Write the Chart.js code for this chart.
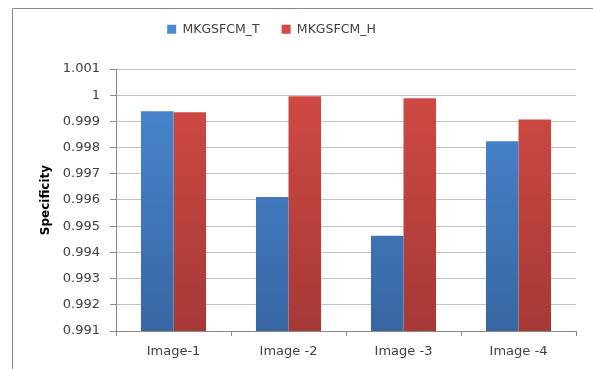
<!DOCTYPE html>
<html>
<head>
<meta charset="utf-8">
<script src="https://cdn.jsdelivr.net/npm/chart.js@4/dist/chart.umd.min.js"></script>
<style>
  html, body { margin: 0; padding: 0; background: #fff; }
  #wrap { width: 593px; height: 369px; }
</style>
</head>
<body>
<div id="wrap"><canvas id="specChart"></canvas></div>
<script>
const categories = ["Image-1", "Image -2", "Image -3", "Image -4"];
const mkgsfcmT = [0.99939, 0.99611, 0.99464, 0.99824];
const mkgsfcmH = [0.99935, 0.99996, 0.99988, 0.99907];
const seriesNames = ["MKGSFCM_T", "MKGSFCM_H"];
const yMin = 0.991;
const yMax = 1.001;
const yStep = 0.001;

const textColor = "#404040";
const fontName = "'DejaVu Sans', sans-serif";

//vertical gradient across the plot area, lighter at top
function barGradient(top, bottom) {
  return (ctx) => {
    const area = ctx.chart.chartArea;
    if (!area) return top;
    const g = ctx.chart.ctx.createLinearGradient(0, area.top, 0, area.bottom);
    g.addColorStop(0, top);
    g.addColorStop(1, bottom);
    return g;
  };
}

//outer frame like the Excel chart area (top and left edges only)
const framePlugin = {
  id: "frame",
  beforeDraw(chart) {
    const c = chart.ctx;
    c.save();
    c.fillStyle = "#fff";
    c.fillRect(0, 0, chart.width, chart.height);
    c.strokeStyle = "#8a8a8a";
    c.lineWidth = 1;
    c.beginPath();
    c.moveTo(12.5, chart.height);
    c.lineTo(12.5, 8.5);
    c.lineTo(chart.width, 8.5);
    c.stroke();
    c.restore();
  },
};

//excel centres the legend a bit left of the canvas centre
const legendShift = {
  id: "legendShift",
  afterLayout(chart) {
    if (!chart.legend) return;
    chart.legend.left -= 34;
    chart.legend.right -= 34;
  },
};

const ctxbar = document.getElementById("specChart").getContext("2d");
const specChart = new Chart(ctxbar, {
  type: "bar",
  data: {
    labels: categories,
    datasets: [
      {
        label: seriesNames[0],
        data: mkgsfcmT,
        backgroundColor: barGradient("#4a89d3", "#3866a3"),
        borderWidth: 0,
      },
      {
        label: seriesNames[1],
        data: mkgsfcmH,
        backgroundColor: barGradient("#d44a45", "#a53936"),
        borderWidth: 0,
      },
    ],
  },
  options: {
    responsive: true,
    maintainAspectRatio: false,
    animation: false,
    categoryPercentage: 0.566,
    barPercentage: 1,
    layout: {
      padding: { left: 35, right: 17, top: 1, bottom: 0 },
    },
    plugins: {
      legend: {
        position: "top",
        labels: {
          boxWidth: 9,
          boxHeight: 9,
          padding: 22,
          color: textColor,
          font: { family: fontName, size: 12.5 },
        },
      },
      //empty spacer between legend and plot
      title: {
        display: true,
        text: "",
        weight: 500,
        font: { size: 10, lineHeight: 1 },
        padding: { top: 0, bottom: 13.5 },
      },
      tooltip: { enabled: false },
    },
    scales: {
      x: {
        grid: {
          offset: true,
          drawOnChartArea: false,
          tickLength: 5,
          color: "#8a8a8a",
        },
        border: { color: "#8a8a8a" },
        ticks: {
          padding: 8,
          color: textColor,
          font: { family: fontName, size: 13 },
        },
        afterFit(scale) {
          scale.height = 38;
        },
      },
      y: {
        min: yMin,
        max: yMax,
        ticks: {
          stepSize: yStep,
          padding: 10,
          color: textColor,
          font: { family: fontName, size: 13 },
          callback: (v) => String(+v.toFixed(3)),
        },
        grid: {
          color: "#c2c2c2",
          tickColor: "#8a8a8a",
          tickLength: 6,
        },
        border: { color: "#8a8a8a" },
        title: {
          display: true,
          text: "Specificity",
          color: "#000",
          font: { family: fontName, size: 12, weight: "bold" },
        },
        afterFit(scale) {
          scale.width = 81;
        },
      },
    },
  },
  plugins: [framePlugin, legendShift],
});
</script>
</body>
</html>
